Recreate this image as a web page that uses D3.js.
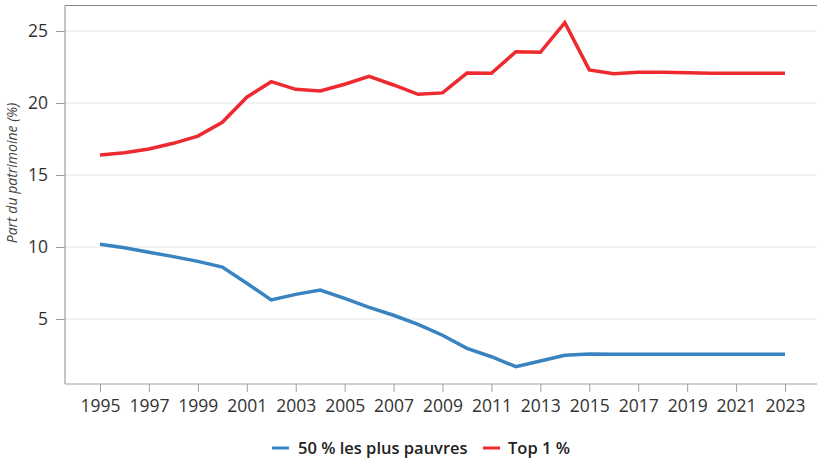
<!DOCTYPE html>
<html><head><meta charset="utf-8">
<script src="https://cdn.jsdelivr.net/npm/d3@7"></script>
<style>
body{margin:0;background:#fff;}
text{font-family:"Open Sans","Noto Sans",sans-serif;}
</style></head>
<body><svg id="c" width="817" height="462"></svg>
<script>
const years = d3.range(1995, 2024);
const bottom50 = [10.19,9.95,9.63,9.33,9.0,8.6,7.48,6.32,6.71,7.01,6.43,5.81,5.26,4.63,3.87,2.96,2.38,1.69,2.08,2.48,2.57,2.55,2.55,2.55,2.55,2.55,2.55,2.55,2.55];
const top1 = [16.39,16.55,16.8,17.2,17.7,18.66,20.4,21.48,20.95,20.83,21.3,21.85,21.25,20.6,20.7,22.08,22.06,23.56,23.52,25.58,22.3,22.03,22.13,22.13,22.1,22.07,22.07,22.07,22.07];
const seriesNames = ["50 % les plus pauvres", "Top 1 %"];
const seriesColors = ["#3a83c1", "#ee2a30"];
const xTicks = d3.range(1995, 2024, 2);
const yTicks = [5, 10, 15, 20, 25];

const svg = d3.select("#c");
const L = 65, R = 817, T = 5.5, B = 384;
const x = d3.scaleLinear().domain([1993.569, 2024.308]).range([L, R]);
const y = d3.scaleLinear().domain([0.486, 26.77]).range([B, T]);

// grid
svg.append("g").selectAll("line").data(yTicks).join("line")
  .attr("x1", L).attr("x2", R).attr("y1", d => y(d)).attr("y2", d => y(d))
  .attr("stroke", "#e6e6e6").attr("stroke-width", 1);

// frame top
svg.append("line").attr("x1", L).attr("x2", R).attr("y1", T).attr("y2", T).attr("stroke", "#8a8a8a").attr("stroke-width", 1);

// y axis
const ya = svg.append("g").attr("transform", `translate(${L},0)`)
  .call(d3.axisLeft(y).tickValues(yTicks).tickSize(9).tickPadding(8).tickFormat(d3.format("d")));
ya.select(".domain").attr("stroke", "#8a8a8a").attr("d", `M0,${T}V${B}`);
ya.selectAll(".tick line").attr("stroke", "#9a9a9a");
ya.selectAll("text").attr("font-size", 17.5).attr("fill", "#333");

// x axis
const xa = svg.append("g").attr("transform", `translate(0,${B})`)
  .call(d3.axisBottom(x).tickValues(xTicks).tickSize(8).tickPadding(8).tickFormat(d3.format("d")));
xa.select(".domain").attr("stroke", "#a0a0a0").attr("d", `M${L},0H${R}`);
xa.selectAll(".tick line").attr("stroke", "#a0a0a0");
xa.selectAll("text").attr("font-size", 17.5).attr("fill", "#333");

// y title
svg.append("text").attr("transform", "translate(17,173) rotate(-90)")
  .attr("text-anchor", "middle").attr("font-size", 14).attr("font-style", "italic")
  .attr("fill", "#444").text("Part du patrimoine (%)");

// lines
const line = d3.line().x((d, i) => x(years[i])).y(d => y(d));
[bottom50, top1].forEach((s, k) => {
  svg.append("path").datum(s).attr("d", line).attr("fill", "none")
    .attr("stroke", seriesColors[k]).attr("stroke-width", 3.5).attr("stroke-linejoin", "miter");
});

// legend
const leg = svg.append("g").attr("transform", "translate(0,448)");
const items = [{x: 272, tx: 298}, {x: 483, tx: 508}];
items.forEach((it, k) => {
  leg.append("line").attr("x1", it.x).attr("x2", it.x + 17).attr("y1", 0).attr("y2", 0)
    .attr("stroke", seriesColors[k]).attr("stroke-width", 3);
  leg.append("text").attr("x", it.tx).attr("y", 6).attr("font-size", 16.5)
    .attr("font-weight", 600).attr("fill", "#222").text(seriesNames[k]);
});
</script></body></html>
